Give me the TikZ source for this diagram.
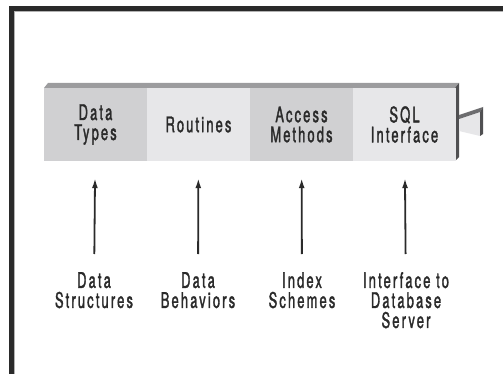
\documentclass[tikz,border=0pt]{standalone}
\usepackage{fontspec}
\usepackage{tikz}
\usetikzlibrary{arrows.meta}
\newfontfamily\condfont[FakeStretch=0.6,LetterSpace=10,FakeBold=1.5]{TeX Gyre Heros}
\definecolor{ink}{HTML}{2A2A2A}
\definecolor{segdark}{HTML}{D0D0D2}
\definecolor{seglight}{HTML}{E7E7E9}
\definecolor{topface}{HTML}{9C9C9E}
\definecolor{sideface}{HTML}{505052}
\tikzstyle{seg} = [minimum width=103pt, minimum height=73pt, inner sep=0pt, align=center, text=ink, font={\condfont\fontsize{21.5}{20}\selectfont}]
\tikzstyle{darkseg} = [fill=segdark]
\tikzstyle{lightseg} = [fill=seglight]
\tikzstyle{lab} = [anchor=north, inner sep=0pt, align=center, text=ink, font={\condfont\fontsize{21.5}{20}\selectfont}]
\tikzstyle{feed} = [-{Latex[length=10pt,width=6pt]}, draw=ink, line width=1.8pt, shorten >=17pt, shorten <=18pt]

\begin{document}
\begin{tikzpicture}[x=1pt,y=-1pt]
    \useasboundingbox (0,0) rectangle (503,374);
    \draw[ink, line width=4.5pt] (11.5,374) -- (11.5,8.5) -- (503,8.5);
    \draw[gray!60, line width=1pt] (14.2,374) -- (14.2,11.2) -- (503,11.2);
    \fill[topface] (44,88) -- (48,83) -- (459,83) -- (455,88) -- cycle;
    \fill[sideface] (455,88) -- (459,83) -- (459,157) -- (455,161) -- cycle;
    \fill[seglight] (459,119) -- (480,112) -- (480,136) -- (459,131) -- cycle;
    \fill[topface!70!black] (459,119) -- (459,115) -- (483,107) -- (480,112) -- cycle;
    \fill[sideface] (480,112) -- (483,107) -- (483,134) -- (480,136) -- cycle;
    \node[seg,darkseg](types) at (95.5,124.5){Data\\Types};
    \node[seg,lightseg](routines) at (198.5,124.5){Routines};
    \node[seg,darkseg](access) at (301.5,124.5){Access\\Methods};
    \node[seg,lightseg](sql) at (404.5,124.5){SQL\\Interface};
    \node[lab](structs) at (94,272){Data\\Structures};
    \node[lab](behav) at (198,272){Data\\Behaviors};
    \node[lab](index) at (302,272){Index\\Schemes};
    \node[lab](server) at (406,272){Interface to\\Database\\Server};
    \draw[feed](structs)--(types);
    \draw[feed](behav)--(routines);
    \draw[feed](index)--(access);
    \draw[feed](server)--(sql);
  \end{tikzpicture}
\end{document}
